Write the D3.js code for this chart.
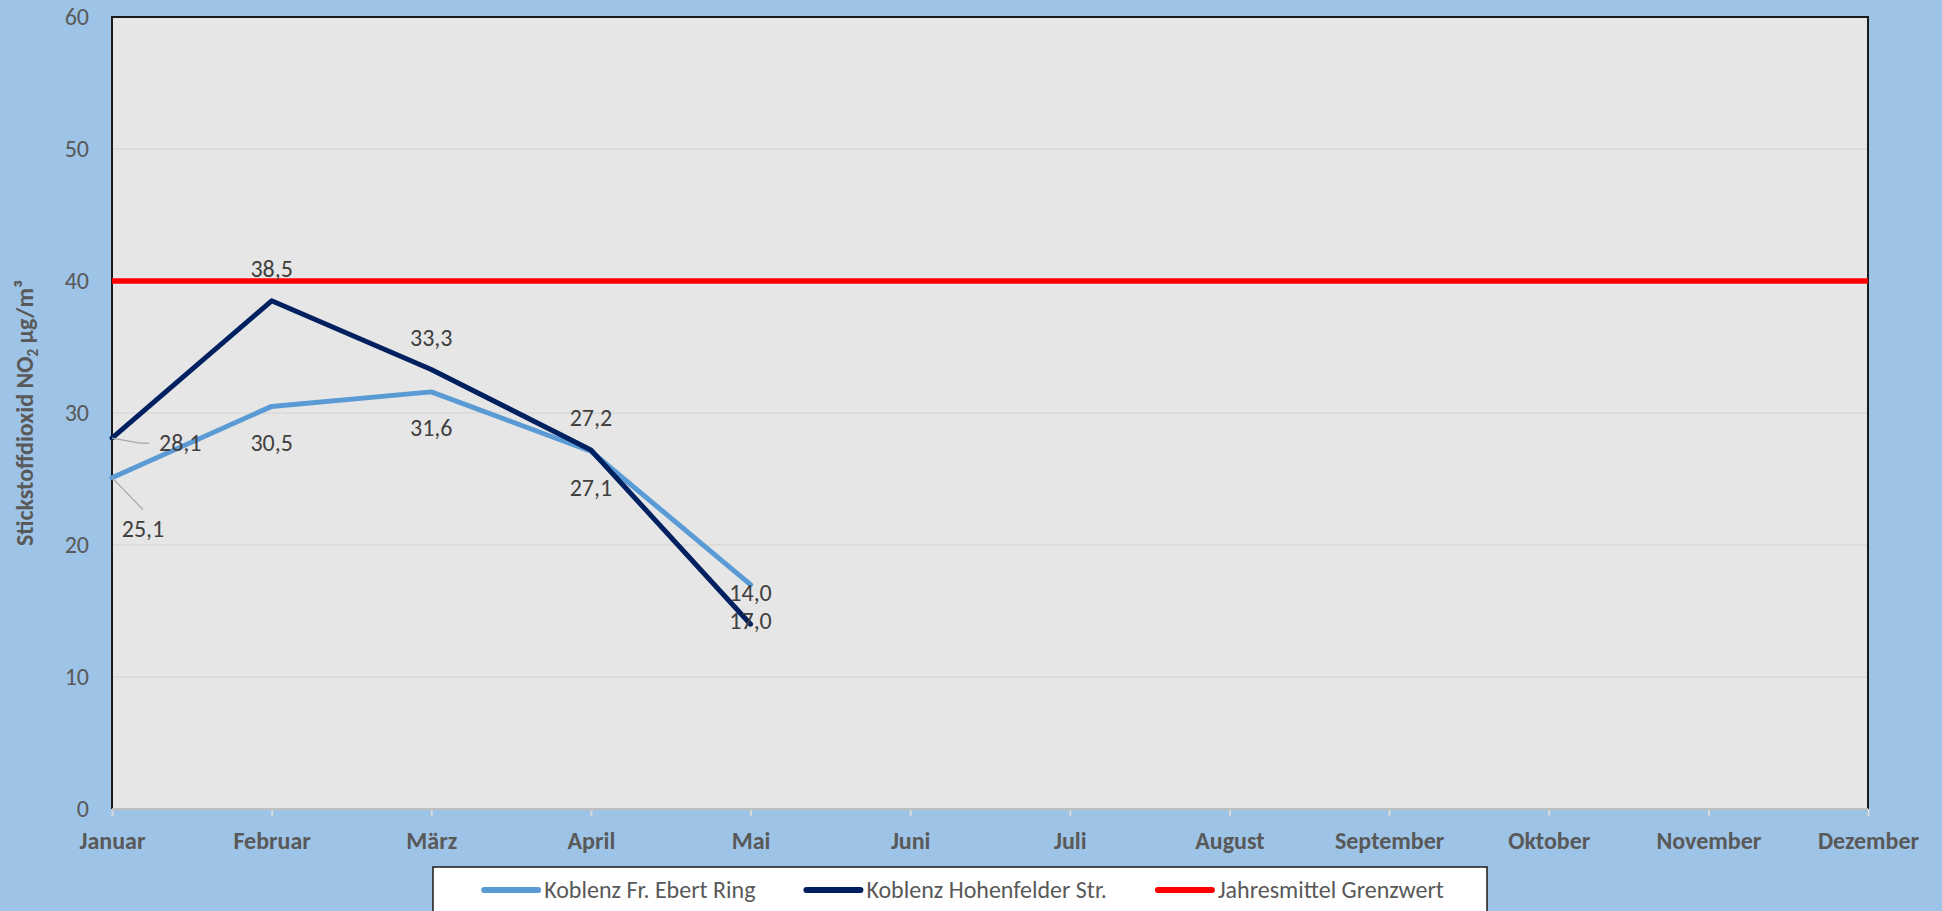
<!DOCTYPE html>
<html lang="de">
<head>
<meta charset="UTF-8">
<title>Stickstoffdioxid Koblenz</title>
<script src="https://cdn.jsdelivr.net/npm/d3@7"></script>
<style>
    body{ margin:0; background:#9DC3E6; }
    text{ font-family: Carlito, Calibri, "Open Sans", sans-serif; }
    .axis path{ display:none; }
    .xaxis line{ stroke:#D9D9D9; stroke-width:2; }
    .xaxis text{ font-size:24px; font-weight:bold; fill:#595959; }
    .yaxis text{ font-size:24px; fill:#595959; }
    .lbl{ font-size:24px; fill:#404040; }
</style>
</head>
<body>
<script>
// Daten
var months = ["Januar","Februar","März","April","Mai","Juni","Juli","August","September","Oktober","November","Dezember"];
var ebertRing   = [25.1, 30.5, 31.6, 27.1, 17.0];
var hohenfelder = [28.1, 38.5, 33.3, 27.2, 14.0];
var grenzwert   = [40, 40, 40, 40, 40, 40, 40, 40, 40, 40, 40, 40];
var yTicks = [0, 10, 20, 30, 40, 50, 60];

var width = 1942, height = 911;
var plotLeft = 112, plotRight = 1868, plotTop = 17, plotBottom = 809;

var svg = d3.select("body").append("svg")
    .attr("width", width)
    .attr("height", height);

svg.append("rect").attr("width", width).attr("height", height).attr("fill", "#9DC3E6");

var x = d3.scalePoint().domain(months).range([plotLeft, plotRight]);
var y = d3.scaleLinear().domain([0, 60]).range([plotBottom, plotTop]);

// Zeichenfläche
svg.append("rect")
    .attr("x", plotLeft).attr("y", plotTop)
    .attr("width", plotRight - plotLeft).attr("height", plotBottom - plotTop)
    .attr("fill", "#E6E6E6");

svg.append("g").selectAll("line")
    .data(yTicks.filter(function(d){ return d > 0 && d < 60; }))
    .enter().append("line")
    .attr("x1", plotLeft).attr("x2", plotRight)
    .attr("y1", function(d){ return y(d); })
    .attr("y2", function(d){ return y(d); })
    .attr("stroke", "#D9D9D9").attr("stroke-width", 1.5);

// Rahmen (links, oben, rechts)
svg.append("path")
    .attr("d", "M" + plotLeft + "," + plotBottom + "V" + plotTop + "H" + plotRight + "V" + plotBottom)
    .attr("fill", "none").attr("stroke", "#1A1A1A").attr("stroke-width", 2);

// Achsen
svg.append("g")
    .attr("class", "axis xaxis")
    .attr("transform", "translate(0," + plotBottom + ")")
    .call(d3.axisBottom(x).tickSize(7).tickPadding(16));

svg.append("line")
    .attr("x1", plotLeft).attr("x2", plotRight)
    .attr("y1", plotBottom).attr("y2", plotBottom)
    .attr("stroke", "#BFBFBF").attr("stroke-width", 2);

svg.append("g")
    .attr("class", "axis yaxis")
    .attr("transform", "translate(" + plotLeft + ",0)")
    .call(d3.axisLeft(y).tickValues(yTicks).tickSize(0).tickPadding(23));

// Achsentitel
var yTitle = svg.append("text")
    .attr("transform", "translate(33," + ((plotTop + plotBottom) / 2) + ") rotate(-90)")
    .attr("text-anchor", "middle")
    .attr("font-size", "24px")
    .attr("font-weight", "bold")
    .attr("fill", "#595959");
yTitle.append("tspan").text("Stickstoffdioxid NO");
yTitle.append("tspan").attr("font-size", "15px").attr("dy", 5).text("2");
yTitle.append("tspan").attr("dy", -5).text(" µg/m³");

// Linien
var line = d3.line()
    .x(function(d, i){ return x(months[i]); })
    .y(function(d){ return y(d); });

var series = [
    { name: "Koblenz Fr. Ebert Ring", values: ebertRing, color: "#5B9BD5", dy: 36 },
    { name: "Koblenz Hohenfelder Str.", values: hohenfelder, color: "#002060", dy: -32 },
    { name: "Jahresmittel Grenzwert", values: grenzwert, color: "#FF0000", dy: null }
];

series.forEach(function(s){
    var isLimit = s.dy === null;
    svg.append("path")
        .datum(s.values)
        .attr("d", line)
        .attr("fill", "none")
        .attr("stroke", s.color)
        .attr("stroke-width", isLimit ? 5.5 : 5)
        .attr("stroke-linejoin", "round")
        .attr("stroke-linecap", isLimit ? "butt" : "round");
});

// Datenbeschriftungen
var fmt = function(v){ return v.toFixed(1).replace(".", ","); };

series.slice(0, 2).forEach(function(s, si){
    s.values.forEach(function(v, i){
        var px = x(months[i]), py = y(v);
        var lx = px, ly = py + s.dy, anchor = "middle";
        if (i == 0) {
            // Januar: Beschriftung mit Führungslinie
            if (si == 0) {
                lx = px + 31; ly = py + 51;
                svg.append("path")
                    .attr("d", "M" + px + "," + py + "L" + (px + 31) + "," + (py + 32))
                    .attr("fill", "none").attr("stroke", "#A6A6A6").attr("stroke-width", 1.2);
            } else {
                lx = px + 47; ly = py + 5; anchor = "start";
                svg.append("path")
                    .attr("d", "M" + px + "," + py + "L" + (px + 28) + "," + (py + 5) + "H" + (px + 37))
                    .attr("fill", "none").attr("stroke", "#A6A6A6").attr("stroke-width", 1.2);
            }
        }
        svg.append("text")
            .attr("class", "lbl")
            .attr("x", lx).attr("y", ly)
            .attr("dy", "0.35em")
            .attr("text-anchor", anchor)
            .text(fmt(v));
    });
});

// Legende
var legend = svg.append("g");
legend.append("rect")
    .attr("x", 433).attr("y", 867)
    .attr("width", 1054).attr("height", 70)
    .attr("fill", "#FFFFFF").attr("stroke", "#1A1A1A").attr("stroke-width", 1.5);

var items = legend.selectAll("g.item").data(series).enter().append("g").attr("class", "item");
items.append("line")
    .attr("x1", 0).attr("x2", 54)
    .attr("y1", 890).attr("y2", 890)
    .attr("stroke", function(d){ return d.color; })
    .attr("stroke-width", 6)
    .attr("stroke-linecap", "round");
items.append("text")
    .attr("x", 60).attr("y", 890)
    .attr("dy", "0.35em")
    .attr("font-size", "24px")
    .attr("fill", "#595959")
    .text(function(d){ return d.name; });

var pos = 0, offsets = [];
items.each(function(){
    offsets.push(pos);
    pos += this.getBBox().width + 51;
});
var total = pos - 51;
var start = 960 + 4 - total / 2;
items.attr("transform", function(d, i){ return "translate(" + (start + offsets[i]) + ",0)"; });
</script>
</body>
</html>
